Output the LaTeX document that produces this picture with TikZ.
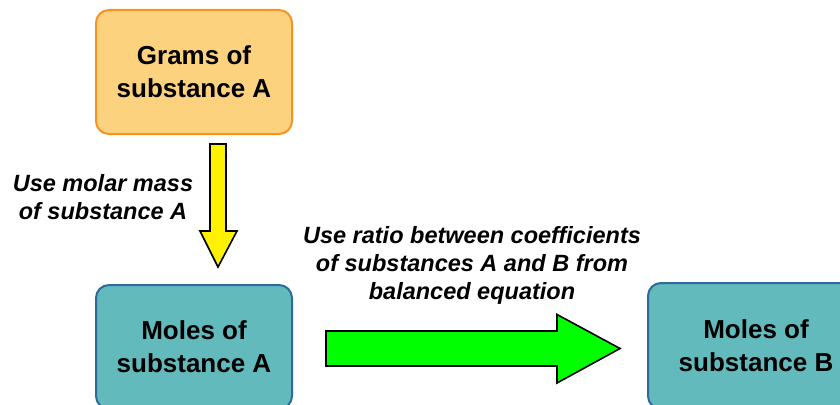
\documentclass[tikz,border=0pt]{standalone}
\usepackage{fontspec}
\setmainfont{Liberation Sans}
\usepackage{xcolor}

\definecolor{gramfill}{HTML}{FDD27F}
\definecolor{gramline}{HTML}{F7931E}
\definecolor{molefill}{HTML}{62BABD}
\definecolor{moleline}{HTML}{2B6A9A}

\begin{document}
\begin{tikzpicture}[x=1pt, y=-1pt,
		box/.style={draw, line width=2pt, rounded corners=13pt, minimum width=196pt, minimum height=124pt, align=center, font=\bfseries\fontsize{26}{33}\selectfont},
		gramsbox/.style={box, draw=gramline, fill=gramfill},
		molesbox/.style={box, draw=moleline, fill=molefill},
		hint/.style={align=center, font=\bfseries\itshape\fontsize{23.5}{28}\selectfont},
		blockarrow/.style={draw=black, line width=1.6pt, line join=miter}]
	\clip (0,0) rectangle (840,404);
	\useasboundingbox (0,0) rectangle (840,404);
	\node[gramsbox] (grams) at (194,72) {Grams of\\ substance A};
	\node[molesbox] (molesA) at (194,347) {Moles of\\ substance A};
	\node[molesbox, minimum width=216pt, minimum height=126pt] (molesB) at (756,346) {Moles of\\ substance B};
	\node[hint] (massnote) at (103,197) {Use molar mass\\ of substance A};
	\node[hint] (rationote) at (472,265) {Use ratio between coefficients\\ of substances A and B from\\ balanced equation};
	% arrows
	\coordinate (ytop) at (218,144);
	\coordinate (ytip) at (218,267);
	\draw[blockarrow, fill=yellow] ([xshift=-8pt]ytop) -- ([xshift=8pt]ytop) -- ++(0,87) -- ++(11,0) -- (ytip) -- ++(-18,-36) -- ++(10,0) -- cycle;
	\coordinate (gtail) at (326,348.5);
	\coordinate (gtip) at (620,348.5);
	\draw[blockarrow, fill=green] ([yshift=17.5pt]gtail) -- ++(231,0) -- ++(0,-16.5) -- (gtip) -- ++(-63,34.5) -- ++(0,-17) -- ++(-231,0) -- cycle;
\end{tikzpicture}
\end{document}
